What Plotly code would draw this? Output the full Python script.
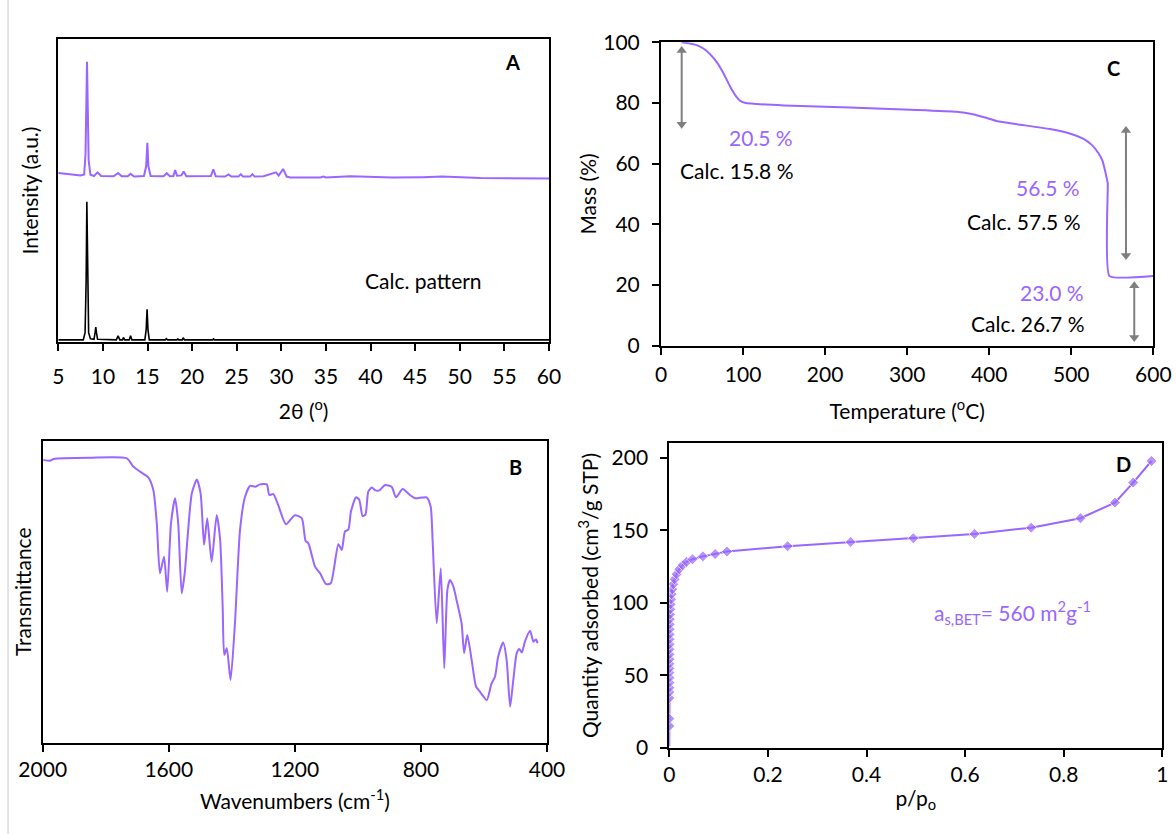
import plotly.graph_objects as go

W, H = 1176, 834
PURPLE = "#9966ff"
GRAY = "#7f7f7f"
FONT = "Lato"
FS = 21

# ---------------- Panel A : XRD ----------------
xrd_exp_2theta = [5.0, 5.5, 6.5, 7.5, 7.9, 8.05, 8.15, 8.22, 8.3, 8.4, 8.6, 9.0, 9.4, 9.8,
                  11.2, 11.7, 12.1, 12.8, 13.1, 13.5, 14.6, 14.85, 14.98, 15.1, 15.35,
                  16.8, 17.15, 17.5, 17.9, 18.1, 18.3, 18.8, 19.05, 19.35, 22.1, 22.38, 22.65,
                  23.7, 24.06, 24.4, 25.2, 25.45, 25.7, 26.5, 26.75, 27.0, 28.0, 29.4, 29.7,
                  30.2, 30.6, 31.0, 34.4, 34.7, 35.0, 35.9, 37.7, 38.75, 40.9, 42.4, 45.9,
                  48.0, 52.3, 60.0]
xrd_exp_int = [55.8, 55.6, 55.4, 55.0, 55.3, 62.0, 80.0, 92.6, 78.0, 60.0, 55.2, 54.8, 56.0, 54.8,
               54.7, 55.8, 54.7, 54.7, 55.5, 54.6, 54.8, 58.0, 65.8, 58.0, 54.8,
               54.7, 55.7, 54.7, 54.8, 56.8, 54.9, 55.0, 56.3, 54.7, 54.8, 57.0, 54.7,
               54.6, 55.3, 54.6, 54.6, 55.4, 54.6, 54.6, 55.4, 54.6, 54.7, 56.0, 54.9,
               57.1, 54.6, 54.3, 54.3, 54.6, 54.3, 54.5, 54.7, 54.6, 54.5, 54.3, 54.4,
               54.6, 54.1, 54.0]

xrd_calc_2theta = [5.0, 7.8, 8.0, 8.12, 8.2, 8.28, 8.4, 8.6, 9.0, 9.12, 9.2, 9.28, 9.4,
                   11.5, 11.7, 11.9, 12.2, 12.3, 12.45, 12.95, 13.1, 13.25, 14.7, 14.85,
                   14.95, 15.05, 15.2, 17.0, 17.1, 17.25, 18.3, 18.4, 18.5, 18.9, 19.0,
                   19.15, 22.3, 22.4, 22.5, 60.0]
xrd_calc_int = [0.6, 0.6, 3.0, 20.0, 46.3, 20.0, 3.0, 1.0, 0.8, 3.0, 4.8, 3.0, 0.8,
                0.6, 1.9, 0.6, 0.6, 1.4, 0.6, 0.6, 2.0, 0.6, 0.6, 4.0,
                10.7, 4.0, 0.6, 0.6, 1.0, 0.6, 0.6, 0.9, 0.6, 0.6, 1.3,
                0.6, 0.6, 0.9, 0.6, 0.6]

# ---------------- Panel B : IR ----------------
ir_wavenumber = [1998, 1977, 1965, 1850, 1733, 1712, 1691, 1665, 1649, 1638, 1628, 1615, 1605,
                 1593, 1580, 1570, 1559, 1549, 1541, 1527, 1511, 1499, 1488, 1478, 1464, 1448,
                 1437, 1429, 1424, 1416, 1404, 1390, 1374, 1358, 1342, 1326, 1311, 1289, 1281,
                 1268, 1253, 1228, 1200, 1178, 1166, 1157, 1136, 1120, 1101, 1086, 1062, 1051,
                 1041, 1030, 1022, 1006, 996, 985, 976, 967, 956, 946, 932, 914, 893, 879, 858,
                 835, 819, 782, 769, 763, 750, 737, 726, 716, 708, 697, 687, 671, 663, 653, 639,
                 625, 613, 591, 576, 565, 555, 539, 528, 517, 507, 496, 488, 480, 470, 454, 443,
                 435, 430]
ir_transmittance = [93.6, 93.3, 93.9, 94.3, 94.1, 91.3, 89.7, 87.8, 83.6, 72.6, 56.1, 61.6, 50.0,
                    72.6, 80.9, 72.6, 49.5, 56.6, 67.1, 82.5, 87.1, 82.5, 65.5, 74.3, 59.9, 75.4,
                    67.1, 45.1, 29.1, 31.3, 20.8, 39.6, 70.4, 81.4, 85.0, 84.7, 85.5, 85.5, 82.0,
                    82.3, 78.7, 72.3, 75.3, 74.3, 66.8, 66.0, 58.3, 56.1, 52.5, 52.8, 65.7, 63.8,
                    69.9, 70.6, 76.5, 81.2, 80.5, 75.0, 75.5, 83.1, 84.5, 83.6, 83.5, 85.3, 84.7,
                    81.2, 84.0, 82.0, 80.9, 81.2, 78.1, 67.1, 39.6, 57.8, 24.7, 50.6, 53.9, 51.7,
                    47.3, 39.6, 29.7, 35.7, 27.4, 18.6, 17.0, 14.2, 19.7, 21.9, 28.5, 33.2, 27.4,
                    12.0, 20.8, 29.7, 31.1, 29.9, 33.5, 37.1, 33.5, 34.3, 33.0]

# ---------------- Panel C : TGA ----------------
tga_temp = [25, 35, 45, 55, 65, 75, 85, 92, 97, 102, 110, 150, 230, 312, 360, 380, 395, 410,
            434, 474, 500, 515, 525, 533, 538, 541, 543, 544.5, 546.5, 600]
tga_mass = [100, 99.6, 98.9, 97.3, 94.5, 90.4, 85.0, 82.0, 80.6, 80.1, 79.8, 79.2, 78.5, 77.7,
            77.1, 76.3, 75.2, 74.0, 73.0, 71.4, 69.8, 68.2, 66.2, 63.5, 61.0, 57.9, 55.5, 53.5,
            23.0, 23.0]
# mass-loss double arrows (temperature position, upper end, lower end)
arrow_temp = [25.2, 566.7, 576.8]
arrow_top = [97.3, 70.9, 19.8]
arrow_bottom = [73.0, 29.7, 2.7]

# ---------------- Panel D : N2 isotherm ----------------
iso_p = [0.0, 0.0, 0.00002, 0.00004, 0.00006, 0.00008, 0.0001, 0.00012, 0.00014, 0.00016,
         0.00018, 0.0002, 0.00022, 0.00025, 0.0003, 0.00035, 0.0004, 0.0005, 0.0006, 0.0008,
         0.0014, 0.0020, 0.0027, 0.0034, 0.0047, 0.0061, 0.0081, 0.0108, 0.0149, 0.0203,
         0.027, 0.035, 0.047, 0.068, 0.093, 0.117, 0.240, 0.368, 0.495, 0.619, 0.734, 0.834,
         0.904, 0.941, 0.978]
iso_q = [1.0, 15.0, 20.0, 34.3, 38.4, 41.4, 44.9, 48.3, 51.8, 54.7, 57.9, 61.0, 64.4, 67.9,
         71.3, 74.8, 78.2, 81.7, 85.1, 88.6, 92.0, 95.5, 99.0, 102.4, 105.9, 109.3, 112.8,
         116.2, 119.7, 123.1, 125.9, 128.2, 130.0, 132.0, 133.6, 135.3, 139.0, 141.9, 144.5,
         147.5, 151.8, 158.3, 169.1, 182.9, 197.8]


def px(x):
    return x / W


def py(y):
    return 1 - y / H


fig = go.Figure()

fig.add_trace(go.Scatter(x=xrd_calc_2theta, y=xrd_calc_int, mode="lines",
                         line=dict(color="black", width=1.6), xaxis="x", yaxis="y"))
fig.add_trace(go.Scatter(x=xrd_exp_2theta, y=xrd_exp_int, mode="lines",
                         line=dict(color=PURPLE, width=2), xaxis="x", yaxis="y"))
fig.add_trace(go.Scatter(x=ir_wavenumber, y=ir_transmittance, mode="lines",
                         line=dict(color=PURPLE, width=2, shape="spline", smoothing=0.6),
                         xaxis="x2", yaxis="y2"))
fig.add_trace(go.Scatter(x=tga_temp, y=tga_mass, mode="lines",
                         line=dict(color=PURPLE, width=2, shape="spline", smoothing=0.4),
                         xaxis="x3", yaxis="y3"))
for t, top, bot in zip(arrow_temp, arrow_top, arrow_bottom):
    fig.add_trace(go.Scatter(x=[t, t], y=[top, bot], mode="lines+markers",
                             line=dict(color=GRAY, width=2),
                             marker=dict(symbol=["triangle-up", "triangle-down"], size=9,
                                         color=GRAY),
                             xaxis="x3", yaxis="y3"))
fig.add_trace(go.Scatter(x=iso_p, y=iso_q, mode="lines+markers",
                         line=dict(color=PURPLE, width=2),
                         marker=dict(symbol="diamond", color=PURPLE,
                                     size=[0] + [8.5] * (len(iso_q) - 1)),
                         xaxis="x4", yaxis="y4"))

common = dict(showline=True, linecolor="black", linewidth=2, mirror=True,
              showgrid=False, zeroline=False, automargin=False,
              tickfont=dict(family=FONT, size=FS, color="black"),
              ticks="outside", ticklen=7, tickwidth=1.5, tickcolor="black")
TF = dict(family=FONT, size=FS, color="black")

fig.update_layout(
    template="none",
    width=W, height=H, autosize=False,
    margin=dict(l=0, r=0, t=0, b=0, pad=0, autoexpand=False),
    paper_bgcolor="white", plot_bgcolor="white", showlegend=False,
    font=dict(family=FONT, size=FS, color="black"),
    xaxis=dict(domain=[px(58.3), px(549)], range=[5, 60], tickmode="linear", tick0=5, dtick=5,
               anchor="y", ticklabelstandoff=8,
               title=dict(text="2θ (<sup>o</sup>)", font=TF, standoff=17), **common),
    yaxis=dict(domain=[py(341.7), py(39.3)], range=[0, 100], anchor="x",
               title=dict(text="Intensity (a.u.)", font=TF, standoff=12),
               **{**common, "ticks": "", "showticklabels": False}),
    xaxis2=dict(domain=[px(42.7), px(547)], range=[2000, 400], tickmode="array",
                tickvals=[2000, 1600, 1200, 800, 400], anchor="y2",
                title=dict(text="Wavenumbers (cm<sup>-1</sup>)", font=TF, standoff=14), **common),
    yaxis2=dict(domain=[py(743), py(440.5)], range=[0, 100], anchor="x2",
                title=dict(text="Transmittance", font=TF, standoff=3),
                **{**common, "ticks": "", "showticklabels": False}),
    xaxis3=dict(domain=[px(661), px(1153.3)], range=[0, 600], tickmode="linear", tick0=0,
                dtick=100, anchor="y3", ticklabelstandoff=2,
                title=dict(text="Temperature (<sup>o</sup>C)", font=TF, standoff=19), **common),
    yaxis3=dict(domain=[py(345.7), py(42.3)], range=[0, 100], tickmode="linear", tick0=0,
                dtick=20, anchor="x3", ticklabelstandoff=8,
                title=dict(text="Mass (%)", font=TF, standoff=1), **common),
    xaxis4=dict(domain=[px(669.3), px(1162.3)], range=[0, 1], tickmode="array",
                tickvals=[0, 0.2, 0.4, 0.6, 0.8, 1], ticktext=["0", "0.2", "0.4", "0.6", "0.8", "1"],
                anchor="y4",
                title=dict(text="p/p<sub>o</sub>", font=TF, standoff=6), **common),
    yaxis4=dict(domain=[py(747.7), py(443.3)], range=[0, 210], tickmode="linear", tick0=0,
                dtick=50, anchor="x4", ticklabelstandoff=8,
                title=dict(text="Quantity adsorbed (cm<sup>3</sup>/g STP)", font=TF, standoff=7),
                **common),
)

anns = []


def ptext(text, x, y, color="black", size=FS, xanchor="center"):
    anns.append(dict(text=text, x=px(x), y=py(y), xref="paper", yref="paper",
                     showarrow=False, xanchor=xanchor, yanchor="middle",
                     font=dict(family=FONT, size=size, color=color)))


# panel letters
ptext("<b>A</b>", 512, 62, size=20)
ptext("<b>B</b>", 515, 467, size=20)
ptext("<b>C</b>", 1113, 68, size=20)
ptext("<b>D</b>", 1123, 464, size=20)

# in-panel texts
ptext("Calc. pattern", 363, 280, xanchor="left")
ptext("20.5 %", 795, 138, color=PURPLE, xanchor="right")
ptext("Calc. 15.8 %", 795, 170, xanchor="right")
ptext("56.5 %", 1082, 188, color=PURPLE, xanchor="right")
ptext("Calc. 57.5 %", 1082, 221, xanchor="right")
ptext("23.0 %", 1086, 292, color=PURPLE, xanchor="right")
ptext("Calc. 26.7 %", 1086, 323, xanchor="right")
ptext("a<sub>s,BET</sub>= 560 m<sup>2</sup>g<sup>-1</sup>", 932, 612, color=PURPLE, xanchor="left")

fig.update_layout(annotations=anns)

# light page border line at left
fig.add_shape(type="line", xref="paper", yref="paper", x0=px(8), x1=px(8), y0=0, y1=1,
              line=dict(color="#c8c8c8", width=1))

fig.write_html("out.html")
